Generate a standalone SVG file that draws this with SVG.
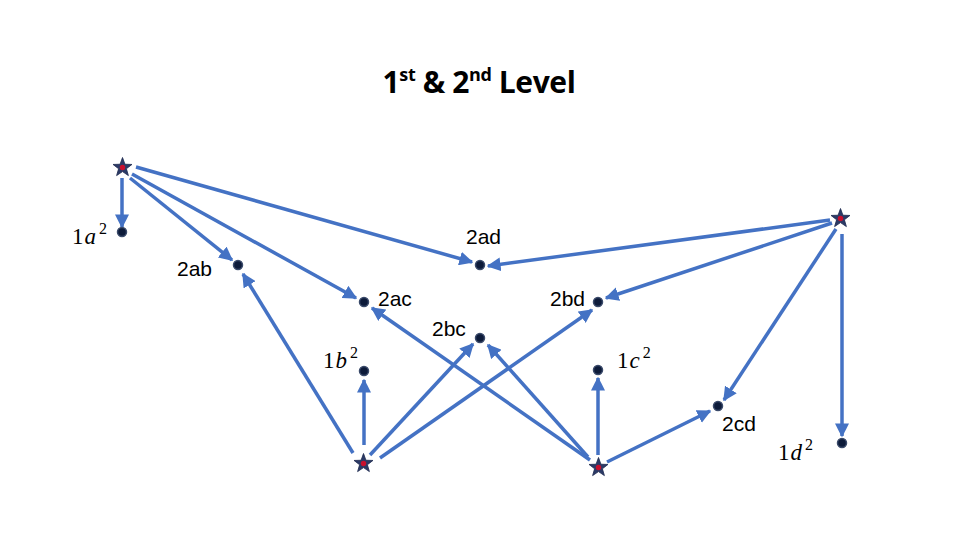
<svg xmlns="http://www.w3.org/2000/svg" width="960" height="540" viewBox="0 0 960 540">
<defs>
<style>
.c{stroke:#4472C4;stroke-width:3.5;fill:none;marker-end:url(#ah)}
.lb{font-family:"Liberation Sans",Arial,sans-serif;font-size:21px;fill:#000}
.mt{font-family:"Liberation Serif","DejaVu Serif",serif;font-size:23px;fill:#000}
.sp{font-size:16px}
.dot{fill:#0d1b3a;stroke:#3a4a6a;stroke-width:1.5}
.star{fill:#2b3a67;stroke:#1f2b50;stroke-width:0.8}
.sc{fill:#c8102e}
</style>
<marker id="ah" viewBox="0 0 10 10" refX="9" refY="5" markerWidth="4" markerHeight="4" orient="auto" markerUnits="strokeWidth">
<path d="M0,0 L10,5 L0,10 z" fill="#4472C4"/>
</marker>
<symbol id="st" viewBox="-10 -10 20 20" overflow="visible">
<path class="star" d="M0,-9.5 L2.3,-3.1 9,-2.9 3.7,1.2 5.6,7.7 0,3.9 -5.6,7.7 -3.7,1.2 -9,-2.9 -2.3,-3.1z"/>
<circle class="sc" cx="0" cy="0" r="2.6"/>
</symbol>
</defs>
<rect width="960" height="540" fill="#fff"/>
<text x="479" y="93" text-anchor="middle" font-family="'Open Sans','Liberation Sans',sans-serif" font-weight="bold" font-size="30" fill="#000" letter-spacing="-0.4">1<tspan font-size="18" dy="-12">st</tspan><tspan dy="12"> &amp; 2</tspan><tspan font-size="18" dy="-12">nd</tspan><tspan dy="12"> Level</tspan></text>
<g id="connectors">
<line class="c" x1="122" y1="178" x2="122" y2="227"/>
<line class="c" x1="130" y1="178" x2="232" y2="260"/>
<line class="c" x1="132" y1="174" x2="356" y2="298"/>
<line class="c" x1="136" y1="167" x2="472" y2="262"/>
<line class="c" x1="830" y1="220" x2="488" y2="266"/>
<line class="c" x1="832" y1="223" x2="606" y2="298"/>
<line class="c" x1="836" y1="229" x2="724" y2="400"/>
<line class="c" x1="842" y1="234" x2="842" y2="436"/>
<line class="c" x1="353" y1="453" x2="243" y2="274"/>
<line class="c" x1="364" y1="445" x2="364" y2="380"/>
<line class="c" x1="370" y1="455" x2="473" y2="344"/>
<line class="c" x1="380" y1="458" x2="592" y2="310"/>
<line class="c" x1="590" y1="460" x2="372" y2="308"/>
<line class="c" x1="588" y1="457" x2="488" y2="345"/>
<line class="c" x1="598" y1="455" x2="598" y2="378"/>
<line class="c" x1="607" y1="462" x2="710" y2="411"/>
</g>
<g id="starA"><use href="#st" x="112" y="157" width="21" height="21"/></g>
<g id="starD"><use href="#st" x="830" y="208" width="21" height="21"/></g>
<g id="starB"><use href="#st" x="353" y="453" width="21" height="21"/></g>
<g id="starC"><use href="#st" x="588" y="457" width="21" height="21"/></g>
<g id="n1a2"><circle class="dot" cx="122" cy="232" r="4.5"/><text class="mt" x="72" y="244">1<tspan font-style="italic" dx="1">a</tspan><tspan class="sp" dx="3" dy="-10">2</tspan></text></g>
<g id="n2ab"><circle class="dot" cx="238" cy="265" r="4.5"/><text class="lb" x="177" y="276">2ab</text></g>
<g id="n2ac"><circle class="dot" cx="364" cy="302" r="4.5"/><text class="lb" x="378" y="306">2ac</text></g>
<g id="n2ad"><circle class="dot" cx="480" cy="265" r="4.5"/><text class="lb" x="466" y="244">2ad</text></g>
<g id="n2bc"><circle class="dot" cx="480" cy="338" r="4.5"/><text class="lb" x="432" y="336">2bc</text></g>
<g id="n2bd"><circle class="dot" cx="598" cy="302" r="4.5"/><text class="lb" x="550" y="306">2bd</text></g>
<g id="n1b2"><circle class="dot" cx="364" cy="371" r="4.5"/><text class="mt" x="323" y="368">1<tspan font-style="italic" dx="1">b</tspan><tspan class="sp" dx="3" dy="-10">2</tspan></text></g>
<g id="n1c2"><circle class="dot" cx="598" cy="370" r="4.5"/><text class="mt" x="617" y="368">1<tspan font-style="italic" dx="1">c</tspan><tspan class="sp" dx="3" dy="-10">2</tspan></text></g>
<g id="n2cd"><circle class="dot" cx="718" cy="406" r="4.5"/><text class="lb" x="722" y="431">2cd</text></g>
<g id="n1d2"><circle class="dot" cx="842" cy="443" r="4.5"/><text class="mt" x="778" y="460">1<tspan font-style="italic" dx="1">d</tspan><tspan class="sp" dx="3" dy="-10">2</tspan></text></g>
</svg>
